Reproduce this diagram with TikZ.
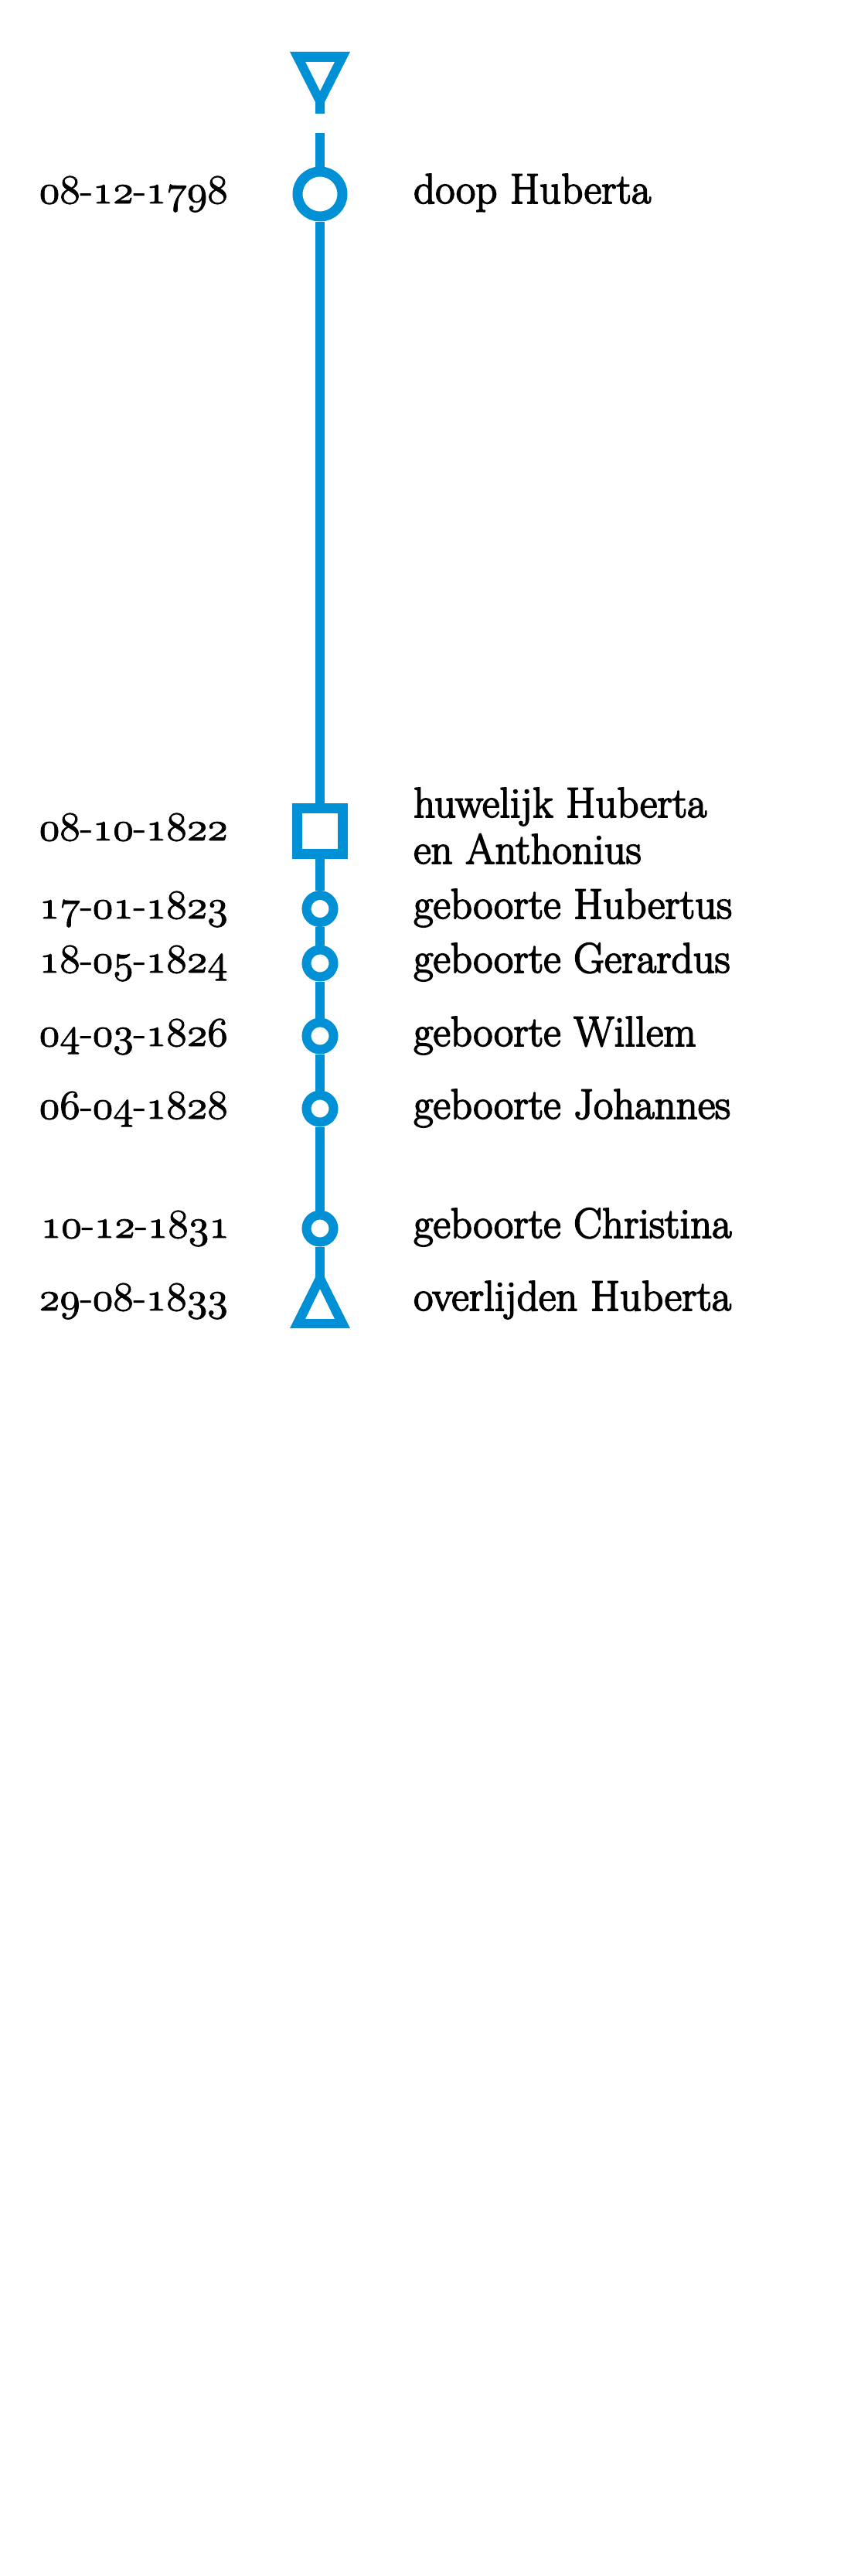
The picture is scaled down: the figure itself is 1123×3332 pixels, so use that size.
\documentclass[tikz,border=0pt]{standalone}
\usepackage{fontspec}
\definecolor{tlblue}{RGB}{0,144,214}
% old-style digits taken from the Computer Modern math italic font
\font\osffont=cmmi10 at 53pt
\newcommand\osfd[1]{{\osffont #1}}
% slightly heavier text: fill + thin stroke
\newcommand\heavytext[1]{\special{pdf:literal direct 0 G 1 j #1 w 2 Tr}}
\tikzset{
  datel/.style={inner sep=0pt, font=\fontsize{53}{60}\selectfont, execute at begin node={\heavytext{0.8}}, anchor=base east},
  evtl/.style={inner sep=0pt, font=\fontsize{55}{60}\selectfont, execute at begin node={\heavytext{1.7}}, anchor=base west},
  bigmark/.style={circle, draw=tlblue, fill=white, line width=13pt, minimum size=58pt, inner sep=0pt},
  smallmark/.style={circle, draw=tlblue, fill=white, line width=12pt, minimum size=35pt, inner sep=0pt},
  sqmark/.style={rectangle, draw=tlblue, fill=white, line width=13pt, minimum size=59pt, inner sep=0pt},
  tline/.style={draw=tlblue, line width=12pt},
}
\begin{document}
\begin{tikzpicture}[x=1pt,y=-1pt]
\useasboundingbox (0,0) rectangle (1123,3332);
\fill[white] (0,0) rectangle (1123,3332);

% markers
\coordinate (lstart) at (414,172);
\coordinate (lend) at (414,1660);
\node[bigmark] (e1) at (414,251) {};
\node[sqmark] (e2) at (414,1074.5) {};
\node[smallmark] (e3) at (414,1175.5) {};
\node[smallmark] (e4) at (414,1246) {};
\node[smallmark] (e5) at (414,1340) {};
\node[smallmark] (e6) at (414,1434) {};
\node[smallmark] (e7) at (414,1589) {};

% connecting line
\draw[tline] (lstart) -- (e1);
\draw[tline] (e1) -- (e2);
\draw[tline] (e2) -- (e3);
\draw[tline] (e3) -- (e4);
\draw[tline] (e4) -- (e5);
\draw[tline] (e5) -- (e6);
\draw[tline] (e6) -- (e7);
\draw[tline] (e7) -- (lend);

% start triangle (pointing down) with stem
\fill[tlblue, even odd rule]
  (375,67) -- (453,67) -- (420,132) -- (420,147) -- (408,147) -- (408,132) -- cycle
  (395,80) -- (433,80) -- (414,118) -- cycle;
% end triangle (pointing up)
\fill[tlblue, even odd rule]
  (375,1718) -- (453,1718) -- (414,1640) -- cycle
  (395,1706) -- (433,1706) -- (414,1667) -- cycle;

% dates
\node[datel] (d1) at (295,263) {\osfd{08}-\osfd{12}-\osfd{1798}};
\node[datel] (d2) at (295,1087) {\osfd{08}-\osfd{10}-\osfd{1822}};
\node[datel] (d3) at (295,1188) {\osfd{17}-\osfd{01}-\osfd{1823}};
\node[datel] (d4) at (295,1258) {\osfd{18}-\osfd{05}-\osfd{1824}};
\node[datel] (d5) at (295,1353) {\osfd{04}-\osfd{03}-\osfd{1826}};
\node[datel] (d6) at (295,1447) {\osfd{06}-\osfd{04}-\osfd{1828}};
\node[datel] (d7) at (297,1601) {\osfd{10}-\osfd{12}-\osfd{1831}};
\node[datel] (d8) at (295,1695) {\osfd{29}-\osfd{08}-\osfd{1833}};

% events
\node[evtl] (t1) at (535,263) {doop Huberta};
\node[evtl] (t2a) at (535,1057) {huwelijk Huberta};
\node[evtl] (t2b) at (535,1117) {en Anthonius};
\node[evtl] (t3) at (535,1188) {geboorte Hubertus};
\node[evtl] (t4) at (535,1258) {geboorte Gerardus};
\node[evtl] (t5) at (535,1353) {geboorte Willem};
\node[evtl] (t6) at (535,1447) {geboorte Johannes};
\node[evtl] (t7) at (535,1601) {geboorte Christina};
\node[evtl] (t8) at (535,1695) {overlijden Huberta};
\end{tikzpicture}
\end{document}
